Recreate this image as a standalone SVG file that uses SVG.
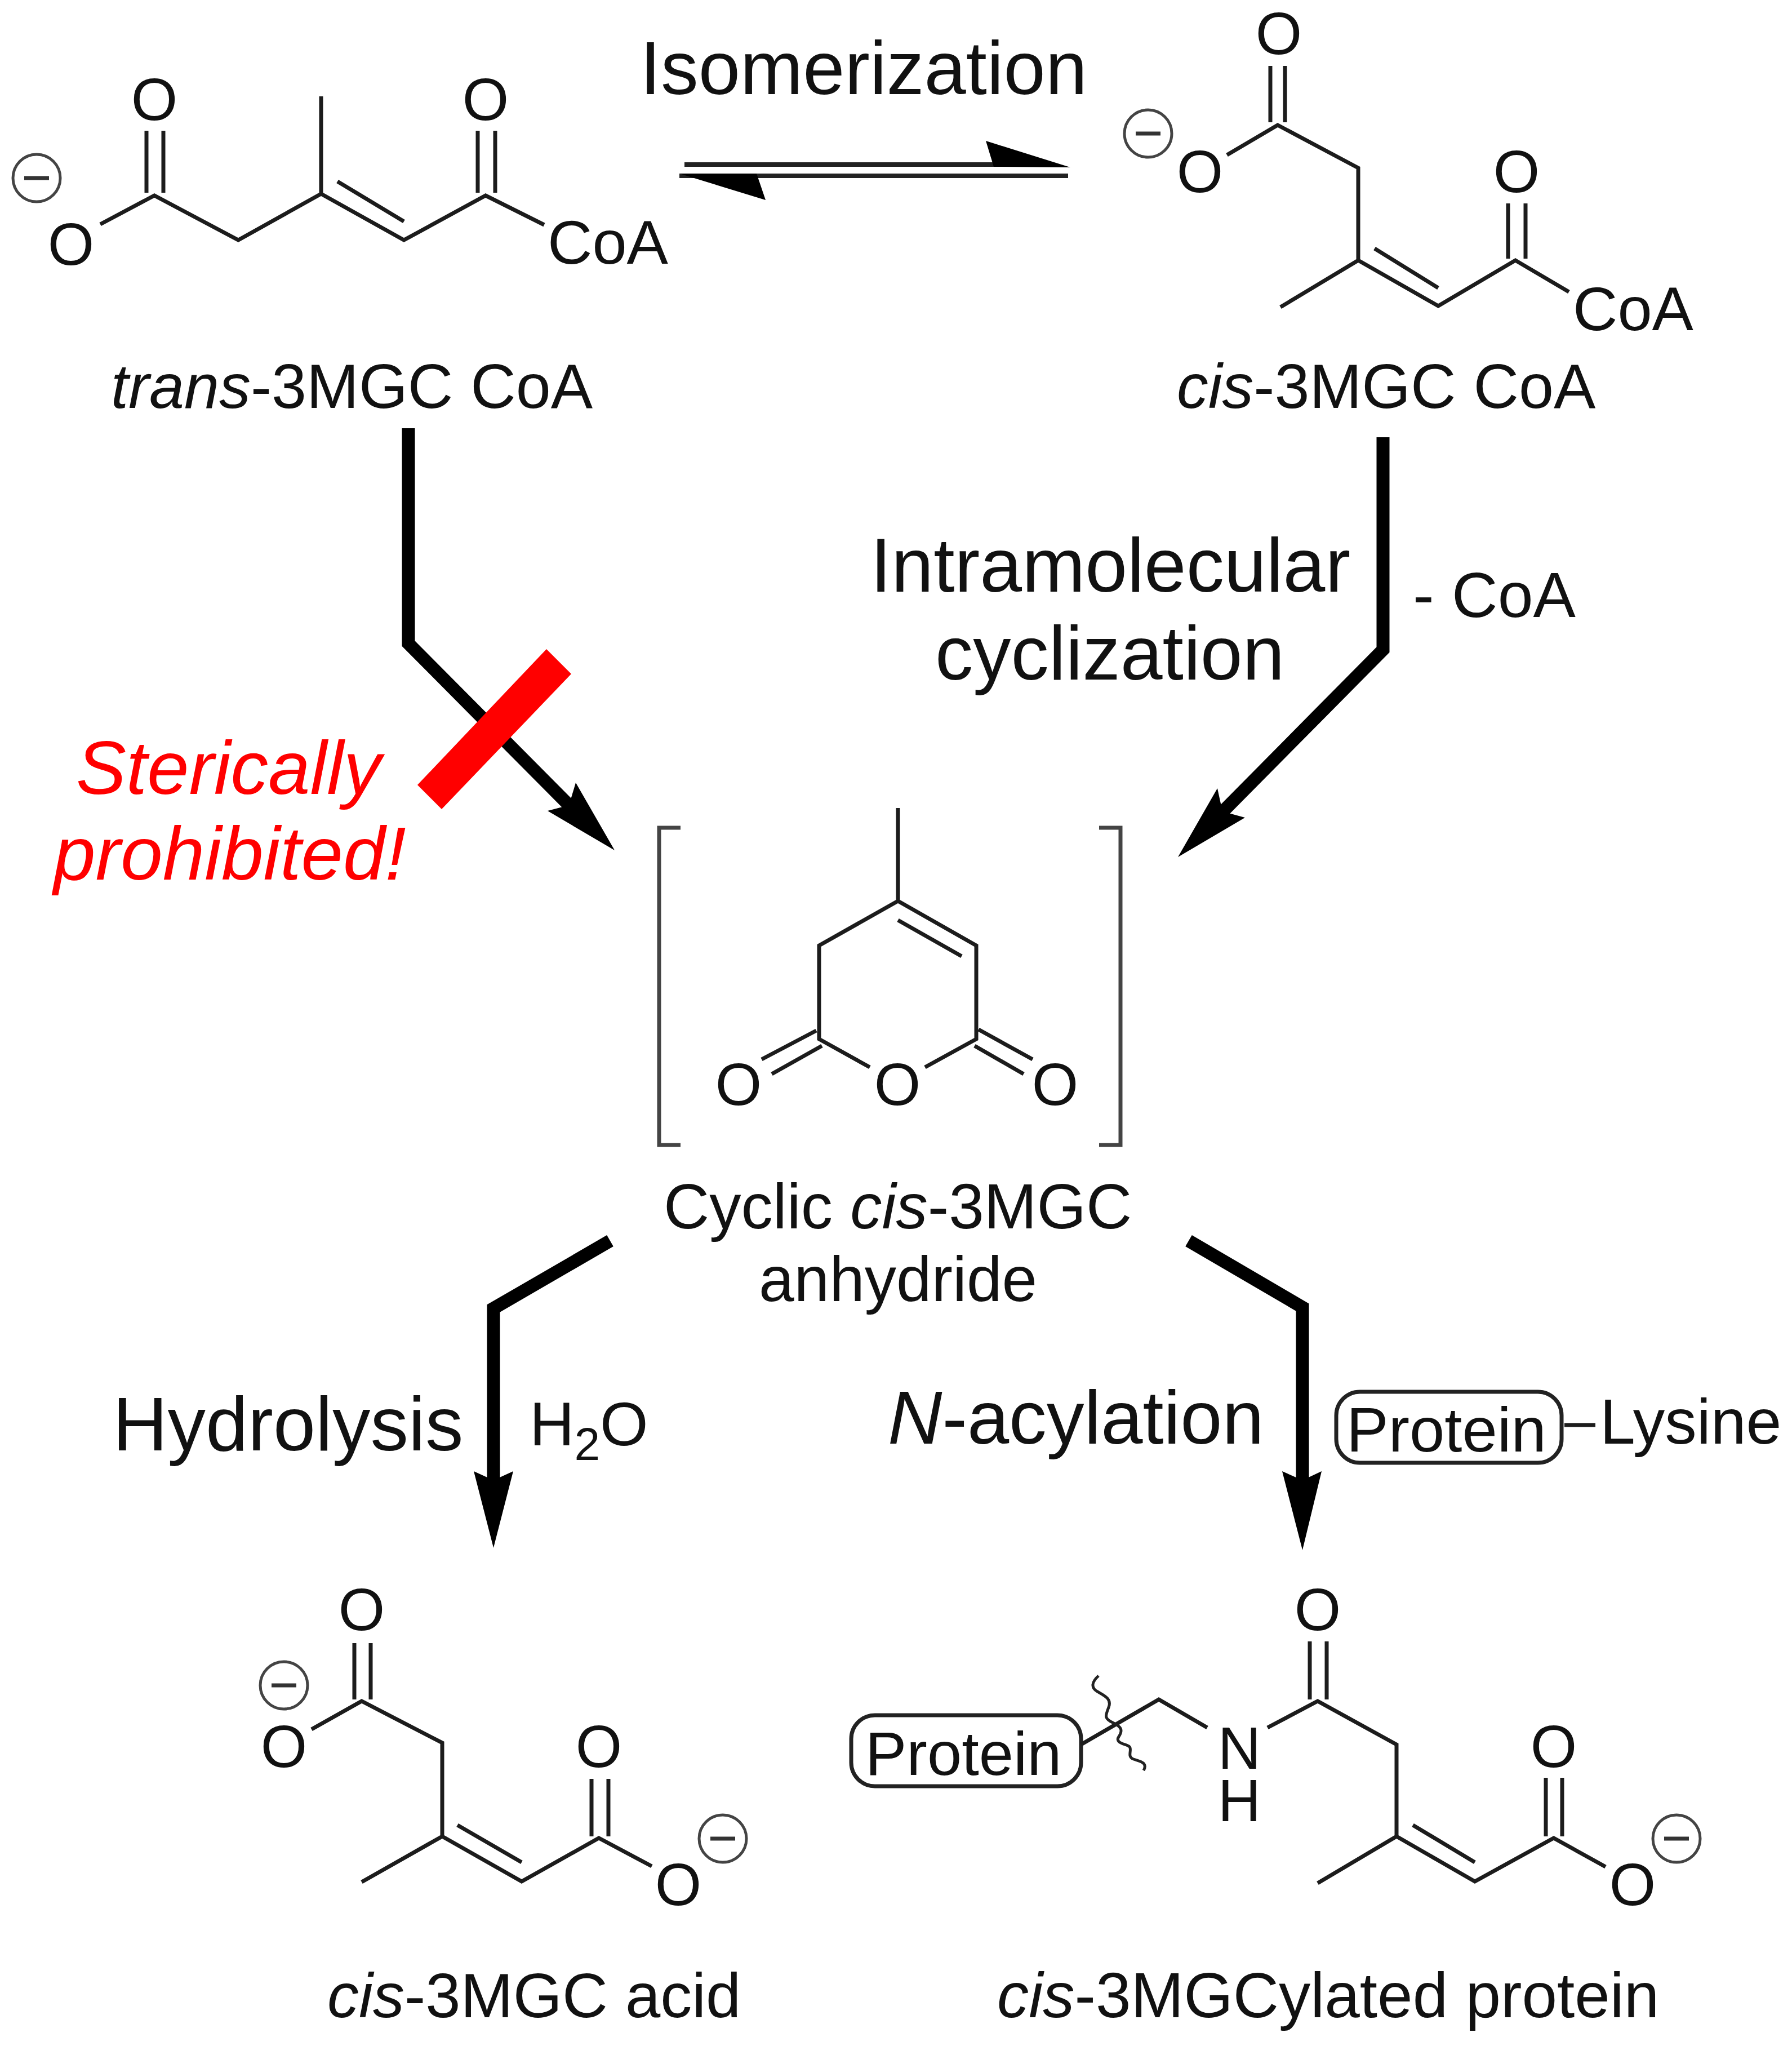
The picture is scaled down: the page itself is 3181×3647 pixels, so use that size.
<svg xmlns="http://www.w3.org/2000/svg" width="3181" height="3647" viewBox="0 0 3181 3647">
<defs>
<style>
text{font-family:"Liberation Sans",Arial,sans-serif;fill:#111}
.a{font-size:106px;text-anchor:middle}
.l{font-size:112.5px}
.k{font-size:111.5px}
.m{font-size:134.5px}
.i{font-style:italic}
.b{fill:none;stroke:#1c1c1c;stroke-width:7}
.q{fill:none;stroke:#444;stroke-width:5}
.n{fill:none;stroke:#333;stroke-width:7}
.w{fill:#000;stroke:none}
.c{fill:none;stroke:#000;stroke-width:23;stroke-linejoin:miter}
.r{fill:#fff;stroke:#222;stroke-width:7}
.s{font-size:110px;text-anchor:start}
</style>
<g id="minus"><circle r="42" class="q"/><path d="M-22 0H22" class="n"/></g>
</defs>
<rect width="3181" height="3647" fill="#fff"/>

<g id="connectors">
<path class="c" d="M725 760V1142L1012 1431"/>
<polygon class="w" points="1091,1509 1022,1389 1010,1429 972,1439"/>
<path class="c" d="M2455 776V1153L2169 1442"/>
<polygon class="w" points="2091,1521 2161,1399 2170,1440 2210,1451"/>
<path class="c" d="M1083 2202L876 2322V2630"/>
<polygon class="w" points="876,2747 841,2611 876,2627 911,2611"/>
<path class="c" d="M2110 2202L2312 2320V2630"/>
<polygon class="w" points="2312,2751 2276,2611 2312,2627 2346,2611"/>
<path d="M1215 292H1770M1206 312H1896" stroke="#222" stroke-width="8" fill="none"/>
<polygon class="w" points="1900,297 1750,250 1764,296"/>
<polygon class="w" points="1206,308 1359,355 1343,308"/>
<polygon points="970,1152 1014,1196 784,1436 741,1393" fill="#f00"/>
</g>

<g id="label-isomerization"><text x="1136" y="167" style="font-size:133.5px">Isomerization</text></g>

<g id="trans-3MGC-CoA">
<path class="b" d="M178 398L274 347L423 426L570 344L717 426L862 347L966 399M570 344V171M599 322L717 393M260 232V342M290 232V342M848 232V342M879 232V342"/>
<text class="a" x="274" y="213">O</text>
<text class="a" x="126" y="470">O</text>
<text class="a" x="862" y="213">O</text>
<text class="s" x="972" y="468">CoA</text>
<use href="#minus" x="65" y="316"/>
<text class="k" x="197" y="724"><tspan class="i">trans</tspan>-3MGC CoA</text>
</g>

<g id="cis-3MGC-CoA">
<path class="b" d="M2178 275L2268 222L2411 298V462L2273 545M2411 462L2553 543L2690 462L2785 518M2440 441L2553 511M2255 117V217M2281 117V217M2677 361V459M2708 361V459"/>
<text class="a" x="2270" y="96">O</text>
<text class="a" x="2130" y="341">O</text>
<text class="a" x="2692" y="341">O</text>
<text class="s" x="2792" y="586">CoA</text>
<use href="#minus" x="2038" y="237"/>
<text class="k" x="2089" y="724"><tspan class="i">cis</tspan>-3MGC CoA</text>
</g>

<g id="label-cyclization">
<text class="m" x="1545" y="1050">Intramolecular</text>
<text class="m" x="1660" y="1206">cyclization</text>
<text x="2508" y="1095" style="font-size:113px">- CoA</text>
</g>

<g id="label-sterically">
<text class="i" x="135" y="1409" style="fill:#f00;font-size:133.5px">Sterically</text>
<text class="i" x="95" y="1561" style="fill:#f00;font-size:134px">prohibited!</text>
</g>

<g id="cyclic-anhydride">
<path class="q" style="stroke-width:7" d="M1208 1469H1170V2032H1208M1951 1469H1989V2032H1951"/>
<path class="b" d="M1594 1434V1599L1454 1678V1844L1544 1894M1594 1599L1733 1678V1844L1642 1894M1594 1633L1707 1697M1449 1829L1352 1880M1459 1856L1370 1906M1737 1827L1833 1880M1730 1856L1817 1906"/>
<text class="a" x="1311" y="1961">O</text>
<text class="a" x="1593" y="1961">O</text>
<text class="a" x="1873" y="1961">O</text>
<text class="l" x="1178" y="2180">Cyclic <tspan class="i">cis</tspan>-3MGC</text>
<text class="l" x="1347" y="2309">anhydride</text>
</g>

<g id="label-hydrolysis">
<text x="200" y="2574" style="font-size:135px">Hydrolysis</text>
<text x="940" y="2565" style="font-size:110px">H<tspan dy="26" style="font-size:82px">2</tspan><tspan dy="-26">O</tspan></text>
</g>

<g id="label-acylation">
<text class="m" x="1576" y="2562" style="font-size:133.5px"><tspan class="i">N</tspan>-acylation</text>
<g id="protein-lysine">
<rect class="r" x="2372" y="2470" width="400" height="126" rx="42"/>
<text x="2390" y="2576" style="font-size:112px">Protein</text>
<path class="b" d="M2777 2529H2832"/>
<text x="2840" y="2562" style="font-size:113px">Lysine</text>
</g>
</g>

<g id="cis-3MGC-acid">
<path class="b" d="M553 3069L642 3019L785 3093V3259L642 3340M785 3259L926 3339L1063 3262L1157 3312M812 3239L926 3305M629 2916V3016M658 2916V3016M1050 3157V3259M1080 3157V3259"/>
<text class="a" x="642" y="2893">O</text>
<text class="a" x="504" y="3136">O</text>
<text class="a" x="1063" y="3136">O</text>
<text class="a" x="1204" y="3381">O</text>
<use href="#minus" x="504" y="2991"/>
<use href="#minus" x="1283" y="3263"/>
<text class="k" x="581" y="3580" style="font-size:112px"><tspan class="i">cis</tspan>-3MGC acid</text>
</g>

<g id="cis-3MGCylated-protein">
<rect class="r" x="1511" y="3044" width="408" height="126" rx="42"/>
<text x="1536" y="3150" style="font-size:110px">Protein</text>
<path class="b" d="M1919 3096L2057 3016L2143 3066M2250 3066L2339 3019L2479 3096V3259L2339 3342M2479 3259L2618 3339L2758 3262L2850 3313M2508 3239L2618 3305M2325 2913V3016M2355 2913V3016M2744 3155V3259M2773 3155V3259"/>
<path fill="none" stroke="#222" stroke-width="5" d="M1950 2974C1938 2985 1936 2995 1948 3002S1974 3015 1968 3030S1960 3050 1975 3057S1994 3070 1986 3082S2000 3095 2005 3100S2000 3118 2012 3122S2038 3128 2030 3142"/>
<text class="a"><tspan x="2200" y="3139">N</tspan><tspan x="2200" y="3232">H</tspan></text>
<text class="a" x="2339" y="2893">O</text>
<text class="a" x="2758" y="3136">O</text>
<text class="a" x="2898" y="3381">O</text>
<use href="#minus" x="2976" y="3263"/>
<text class="l" x="1770" y="3580"><tspan class="i">cis</tspan>-3MGCylated protein</text>
</g>
</svg>
